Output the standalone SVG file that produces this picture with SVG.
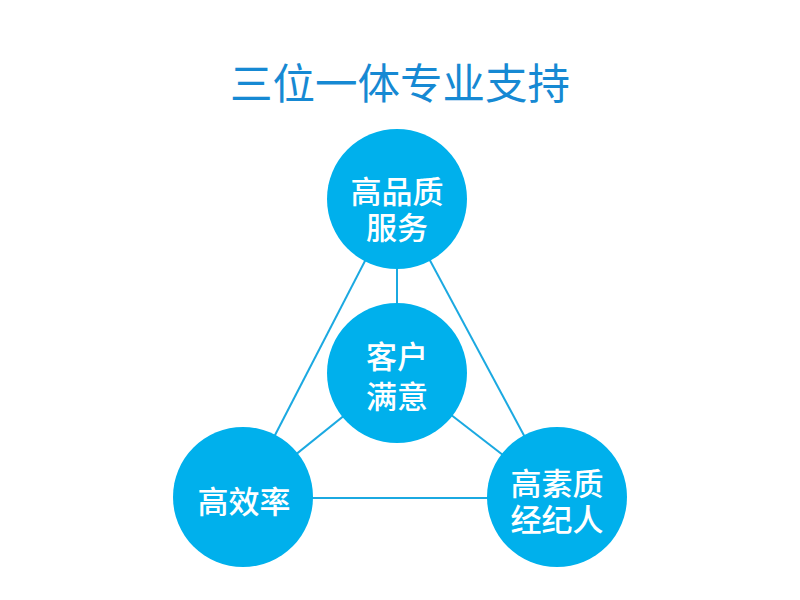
<svg xmlns="http://www.w3.org/2000/svg" width="800" height="600" viewBox="0 0 800 600">
<style>
.edge{stroke:#1ba9e1;stroke-width:2;fill:none}
.node circle{fill:#00b0ec}
.node text{fill:#ffffff;font-family:"Noto Sans CJK SC","Noto Sans",sans-serif;font-size:31px;font-weight:500;text-anchor:middle;dominant-baseline:central}
.title{fill:#1689d3;font-family:"Noto Sans CJK SC","Noto Sans",sans-serif;font-size:42.5px;font-weight:400;text-anchor:middle;dominant-baseline:central}
</style>
<rect width="800" height="600" fill="#ffffff"/>
<text class="title" x="400" y="80">三位一体专业支持</text>
<g id="connectors">
<line class="edge" x1="397" y1="199" x2="243" y2="497"/>
<line class="edge" x1="397" y1="199" x2="557" y2="497"/>
<line class="edge" x1="397" y1="199" x2="397" y2="373"/>
<line class="edge" x1="397" y1="373" x2="243" y2="497"/>
<line class="edge" x1="397" y1="373" x2="557" y2="497"/>
<line class="edge" x1="243" y1="498" x2="557" y2="498"/>
</g>
<g id="node-top" class="node">
<circle cx="397" cy="199" r="70"/>
<text x="397" y="189">高品质<tspan x="397" dy="36">服务</tspan></text>
</g>
<g id="node-center" class="node">
<circle cx="397" cy="373" r="70"/>
<text x="397" y="354">客户<tspan x="397" dy="40">满意</tspan></text>
</g>
<g id="node-left" class="node">
<circle cx="243" cy="497" r="70"/>
<text x="244" y="499">高效率</text>
</g>
<g id="node-right" class="node">
<circle cx="557" cy="497" r="70"/>
<text x="557" y="481">高素质<tspan x="557" dy="36">经纪人</tspan></text>
</g>
</svg>
